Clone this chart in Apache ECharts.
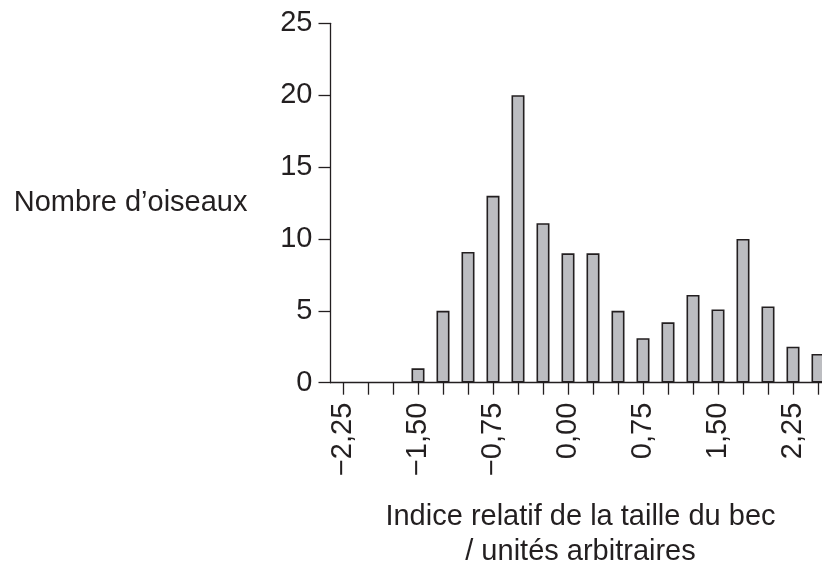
<!DOCTYPE html>
<html>
<head>
<meta charset="utf-8">
<script src="https://cdn.jsdelivr.net/npm/echarts@6/dist/echarts.min.js"></script>
<style>
  html, body { margin: 0; padding: 0; background: #fff; }
  #chart { width: 822px; height: 566px; }
</style>
</head>
<body>
<div id="chart"></div>
<script>
// classes de l'indice relatif (pas de 0,25)
var categories = ['−2,25', '−2,00', '−1,75', '−1,50', '−1,25', '−1,00', '−0,75', '−0,50', '−0,25',
    '0,00', '0,25', '0,50', '0,75', '1,00', '1,25', '1,50', '1,75', '2,00', '2,25', '2,50'];
// nombre d'oiseaux
var birds = [0, 0, 0, 1, 5, 9.1, 13, 20, 11.1, 9, 9, 5, 3.1, 4.2, 6.1, 5.1, 10, 5.3, 2.5, 2];
var yTicks = [0, 5, 10, 15, 20, 25];

var ink = '#231f20';
var font = 'Liberation Sans, Arial, sans-serif';

var chart = echarts.init(document.getElementById('chart'));
var option = {
    backgroundColor: '#ffffff',
    animation: false,
    grid: {left: 330.5, right: -8.5, top: 23.3, bottom: 183.3, outerBoundsMode: 'none', containLabel: false},
    xAxis: {
        type: 'category',
        data: categories,
        boundaryGap: true,
        name: 'Indice relatif de la taille du bec\n/ unités arbitraires',
        nameLocation: 'middle',
        nameGap: 117,
        nameTextStyle: {color: ink, fontSize: 29, fontFamily: font, lineHeight: 35, align: 'center'},
        axisLine: {lineStyle: {color: ink, width: 1.3}},
        axisTick: {show: true, alignWithLabel: true, interval: 0, length: 12, lineStyle: {color: ink, width: 1.3}},
        axisLabel: {
            interval: 2,
            rotate: 90,
            margin: 20,
            color: ink,
            fontSize: 29,
            fontFamily: font
        },
        splitLine: {show: false}
    },
    yAxis: {
        type: 'value',
        min: yTicks[0],
        max: yTicks[yTicks.length - 1],
        interval: 5,
        name: 'Nombre d’oiseaux',
        nameLocation: 'middle',
        nameRotate: 0,
        nameGap: 83,
        nameTextStyle: {color: ink, fontSize: 29, fontFamily: font, padding: [8, 0, 0, 0]},
        axisLine: {show: true, lineStyle: {color: ink, width: 1.3}},
        axisTick: {show: true, length: 12, lineStyle: {color: ink, width: 1.3}},
        axisLabel: {margin: 18, color: ink, fontSize: 29, fontFamily: font},
        splitLine: {show: false}
    },
    series: [{
        type: 'bar',
        // pas de barre pour les classes vides
        data: birds.map(function (v) { return v === 0 ? '-' : v; }),
        barWidth: 13,
        itemStyle: {color: '#bcbdc1', borderColor: ink, borderWidth: 1.6}
    }]
};
chart.setOption(option);
</script>
</body>
</html>
